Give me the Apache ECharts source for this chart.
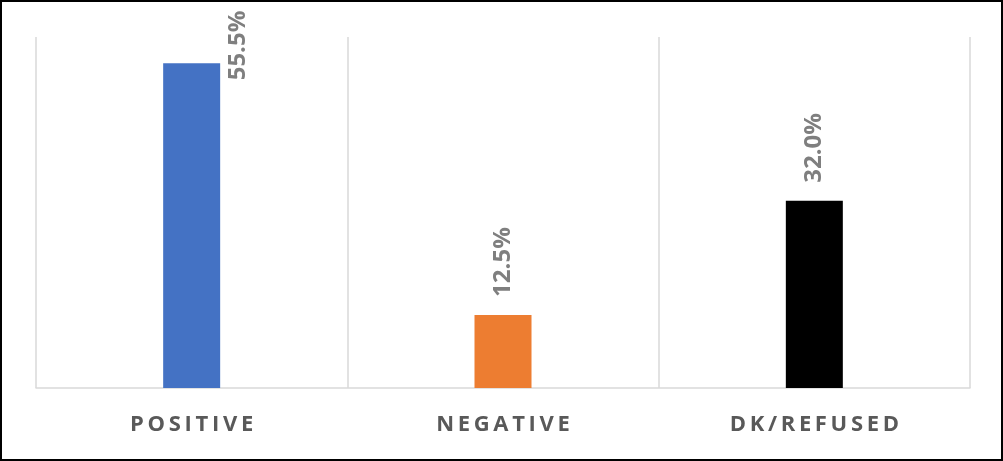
<!DOCTYPE html>
<html>
<head>
<meta charset="utf-8">
<script src="https://cdn.jsdelivr.net/npm/echarts@6/dist/echarts.min.js"></script>
<style>
html,body{margin:0;padding:0;background:#fff;}
#c{width:1003px;height:461px;box-sizing:border-box;border:2px solid #000;}
</style>
</head>
<body>
<div id="c"></div>
<script>
var categories = ['POSITIVE', 'NEGATIVE', 'DK/REFUSED'];
var values = [55.5, 12.5, 32.0];
var colors = ['#4472C4', '#ED7D31', '#000000'];

function spaced(s){ return s.split('').join('\u2006'); }

var chart = echarts.init(document.getElementById('c'), null, {renderer:'canvas'});
var data = values.map(function(v, i){
  var item = {value: v, itemStyle: {color: colors[i]}};
  if (i === 0) {
    item.label = {position: [75, 17]};
  }
  return item;
});
chart.setOption({
  animation: false,
  grid: {left: 34, right: 31, top: 35, bottom: 71},
  xAxis: {
    type: 'category',
    data: categories,
    axisTick: {show: false},
    axisLine: {lineStyle: {color: '#d9d9d9', width: 1.5}},
    splitLine: {show: true, lineStyle: {color: '#d9d9d9', width: 1.5}},
    axisLabel: {
      margin: 26,
      color: '#595959',
      fontFamily: 'Open Sans',
      fontWeight: 'bold',
      fontSize: 22,
      formatter: function(v){ return spaced(v); }
    }
  },
  yAxis: {
    type: 'value', min: 0, max: 60, show: false,
    splitLine: {show: false}
  },
  series: [{
    type: 'bar',
    data: data,
    barWidth: 57,
    label: {
      show: true,
      position: 'top',
      distance: 18,
      rotate: 90,
      align: 'left',
      verticalAlign: 'middle',
      color: '#7f7f7f',
      fontFamily: 'Open Sans',
      fontWeight: 'bold',
      fontSize: 24,
      formatter: function(p){ return p.value.toFixed(1) + '%'; }
    }
  }]
});
</script>
</body>
</html>
